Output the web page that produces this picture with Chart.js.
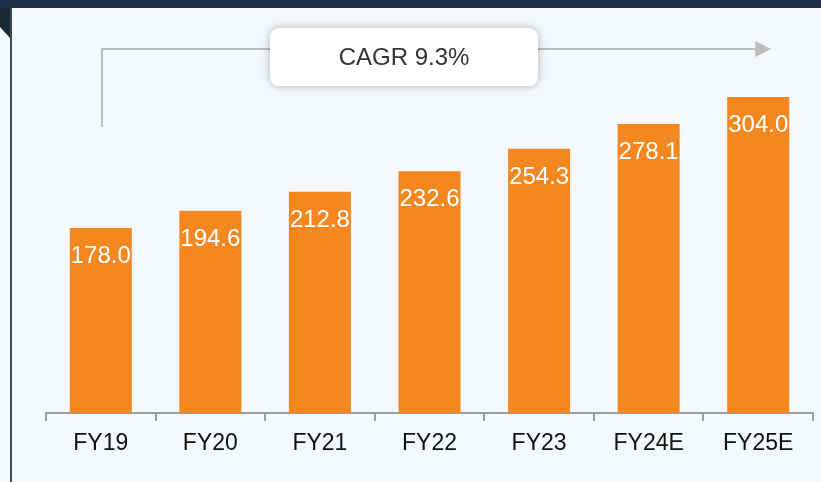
<!DOCTYPE html>
<html>
<head>
<meta charset="utf-8">
<script src="https://cdn.jsdelivr.net/npm/chart.js@4/dist/chart.umd.min.js"></script>
<style>
    body { margin: 0; background: #f4f8fa; }
    .wrap { position: relative; width: 821px; height: 482px; overflow: hidden; background: #f4f8fa; }
    .top-band { position: absolute; left: 0; top: 0; width: 821px; height: 8px; background: #20304a; }
    .left-line { position: absolute; left: 10px; top: 8px; width: 2px; height: 474px; background: #3b4954; }
    .corner { position: absolute; left: 0; top: 8px; width: 10px; height: 30px; background: #1b2a33;
        clip-path: polygon(0 0, 100% 0, 100% 100%, 0 63%); }
    canvas { position: absolute; left: 0; top: 0; }
</style>
</head>
<body>
<div class="wrap">
    <div class="top-band"></div>
    <div class="corner"></div>
    <div class="left-line"></div>
    <canvas id="chart1" width="821" height="482"></canvas>
</div>
<script>
// data
const categories = ['FY19', 'FY20', 'FY21', 'FY22', 'FY23', 'FY24E', 'FY25E'];
const values = [178.0, 194.6, 212.8, 232.6, 254.3, 278.1, 304.0];
const cagrLabel = 'CAGR 9.3%';

const barColor = '#F4871F';
const axisColor = '#9c9c9c';
const font = "'Liberation Sans', Arial, sans-serif";

// white value labels inside the bars
const valueLabels = {
    id: 'valueLabels',
    afterDatasetsDraw(chart) {
        const ctx = chart.ctx;
        const meta = chart.getDatasetMeta(0);
        ctx.save();
        ctx.fillStyle = '#ffffff';
        ctx.font = '24px ' + font;
        ctx.textAlign = 'center';
        ctx.textBaseline = 'alphabetic';
        meta.data.forEach(function (bar, i) {
            ctx.fillText(values[i].toFixed(1), bar.x, bar.y + 35);
        });
        ctx.restore();
    }
};

// CAGR arrow + box
const cagrArrow = {
    id: 'cagrArrow',
    afterDraw(chart) {
        const ctx = chart.ctx;
        const x = chart.scales.x;
        const startX = Math.round(x.getPixelForValue(0)) + 1;
        const endX = x.getPixelForValue(categories.length - 1) + 13;
        const lineY = 49;
        ctx.save();
        ctx.strokeStyle = '#bdbdbd';
        ctx.fillStyle = '#bdbdbd';
        ctx.lineWidth = 2;
        ctx.beginPath();
        ctx.moveTo(startX, 127);
        ctx.lineTo(startX, lineY);
        ctx.lineTo(endX - 15, lineY);
        ctx.stroke();
        ctx.beginPath();
        ctx.moveTo(endX - 16, lineY - 8);
        ctx.lineTo(endX, lineY);
        ctx.lineTo(endX - 16, lineY + 8);
        ctx.closePath();
        ctx.fill();

        // box
        const bx = 270, by = 28, bw = 268, bh = 58, r = 9;
        ctx.shadowColor = 'rgba(0,0,0,0.28)';
        ctx.shadowBlur = 8;
        ctx.fillStyle = '#ffffff';
        ctx.beginPath();
        ctx.roundRect(bx, by, bw, bh, r);
        ctx.fill();
        ctx.shadowColor = 'transparent';
        ctx.fillStyle = '#333333';
        ctx.font = '24px ' + font;
        ctx.textAlign = 'center';
        ctx.textBaseline = 'middle';
        ctx.fillText(cagrLabel, bx + bw / 2, by + bh / 2 + 1);
        ctx.restore();
    }
};

var ctx = document.getElementById('chart1').getContext('2d');

var myChart = new Chart(ctx, {
    type: 'bar',
    data: {
        labels: categories,
        datasets: [{
            data: values,
            backgroundColor: barColor,
            borderWidth: 0,
            categoryPercentage: 1,
            barPercentage: 0.566
        }]
    },
    options: {
        responsive: false,
        animation: false,
        layout: {
            padding: { left: 46, right: 8, top: 18, bottom: 0 }
        },
        plugins: {
            legend: { display: false },
            tooltip: { enabled: false }
        },
        scales: {
            x: {
                afterFit: function (scale) {
                    scale.height = 69;
                },
                grid: {
                    drawOnChartArea: false,
                    drawTicks: true,
                    tickLength: 8,
                    color: axisColor,
                    lineWidth: 2
                },
                border: {
                    color: axisColor,
                    width: 2
                },
                ticks: {
                    color: '#111111',
                    padding: 9,
                    font: { family: font, size: 23 }
                }
            },
            y: {
                display: false,
                min: 0,
                max: 380
            }
        }
    },
    plugins: [valueLabels, cagrArrow]
});
</script>
</body>
</html>
